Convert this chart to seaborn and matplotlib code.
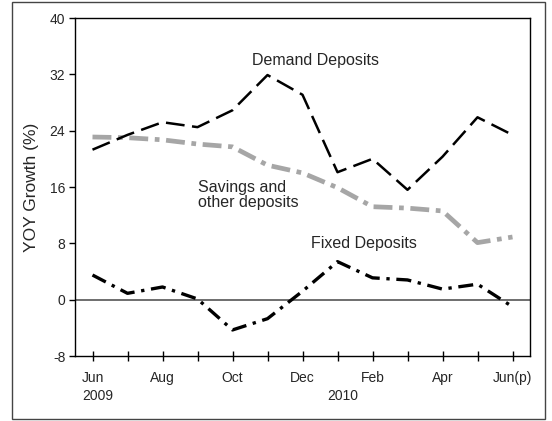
import matplotlib
matplotlib.use("Agg")
import matplotlib.pyplot as plt
import matplotlib.transforms as mtransforms
from matplotlib.patches import Rectangle
import seaborn as sns
import pandas as pd

sns.set_theme(style="white")
plt.rcParams['font.family'] = ['Liberation Sans', 'DejaVu Sans']
plt.rcParams['axes.unicode_minus'] = False

# Data, Jun 2009 .. Jun 2010
months = ['Jun', 'Jul', 'Aug', 'Sep', 'Oct', 'Nov', 'Dec',
          'Jan', 'Feb', 'Mar', 'Apr', 'May', 'Jun(p)']
demand = [21.3, 23.4, 25.2, 24.5, 26.9, 31.9, 29.1, 18.1, 20.0, 15.6, 20.3, 25.9, 23.4]
savings = [23.1, 23.0, 22.7, 22.1, 21.7, 19.1, 18.0, 15.9, 13.2, 13.0, 12.6, 8.1, 8.9]
fixed = [3.5, 0.9, 1.8, 0.1, -4.3, -2.7, 1.2, 5.4, 3.1, 2.8, 1.5, 2.2, -1.0]
tick_labels = ['Jun', '', 'Aug', '', 'Oct', '', 'Dec', '', 'Feb', '', 'Apr', '', 'Jun(p)']
years = {0: '2009', 7: '2010'}

df = pd.DataFrame({'idx': range(len(months)), 'month': months,
                   'demand': demand, 'savings': savings, 'fixed': fixed})

fig = plt.figure(figsize=(5.52, 4.21), dpi=100)
ax = fig.add_axes([75 / 552, 1 - 356 / 421, 455 / 552, 338 / 421])

# outer frame
fig.patches.append(Rectangle((12 / 552, 2 / 421), 533 / 552, 417 / 421,
                             transform=fig.transFigure, fill=False,
                             edgecolor='#444444', linewidth=1.0))

ax.axhline(0, color='#555555', linewidth=1.2, zorder=1)

sns.lineplot(data=df, x='idx', y='savings', ax=ax, color='#a6a6a6',
             linewidth=3.4, linestyle=(0, (4, 1.4, 1, 1.4)))
sns.lineplot(data=df, x='idx', y='demand', ax=ax, color='black',
             linewidth=1.8, linestyle=(0, (7.5, 3)))
sns.lineplot(data=df, x='idx', y='fixed', ax=ax, color='black',
             linewidth=2.4, linestyle=(0, (4.5, 2, 1, 2)))

ax.set_xlim(-0.5, 12.5)
ax.set_ylim(-8, 40)
ax.set_yticks(range(-8, 41, 8))
ax.set_xticks(range(len(months)))
ax.set_xticklabels(tick_labels)
ax.tick_params(axis='x', direction='inout', length=7, width=1, color='black',
               labelsize=10, pad=7)
ax.tick_params(axis='y', direction='out', length=4, width=1, color='black',
               labelsize=10, pad=3)
ax.tick_params(left=True, bottom=True)
for s in ax.spines.values():
    s.set_color('black')
    s.set_linewidth(1.0)

ax.set_xlabel('')
ax.set_ylabel('YOY Growth (%)', fontsize=12.5, labelpad=8)

trans = mtransforms.blended_transform_factory(ax.transData, ax.transAxes)
for i, yr in years.items():
    ax.text(i + 0.15, -0.098, yr, transform=trans, ha='center', va='top', fontsize=10)

ax.text(6.37, 34.0, 'Demand Deposits', ha='center', va='center', fontsize=11.5)
ax.text(3.0, 14.9, 'Savings and\nother deposits', ha='left', va='center',
        fontsize=11.5, linespacing=1.0)
ax.text(7.75, 8.0, 'Fixed Deposits', ha='center', va='center', fontsize=11.5)

fig.savefig('out.png', dpi=100)
